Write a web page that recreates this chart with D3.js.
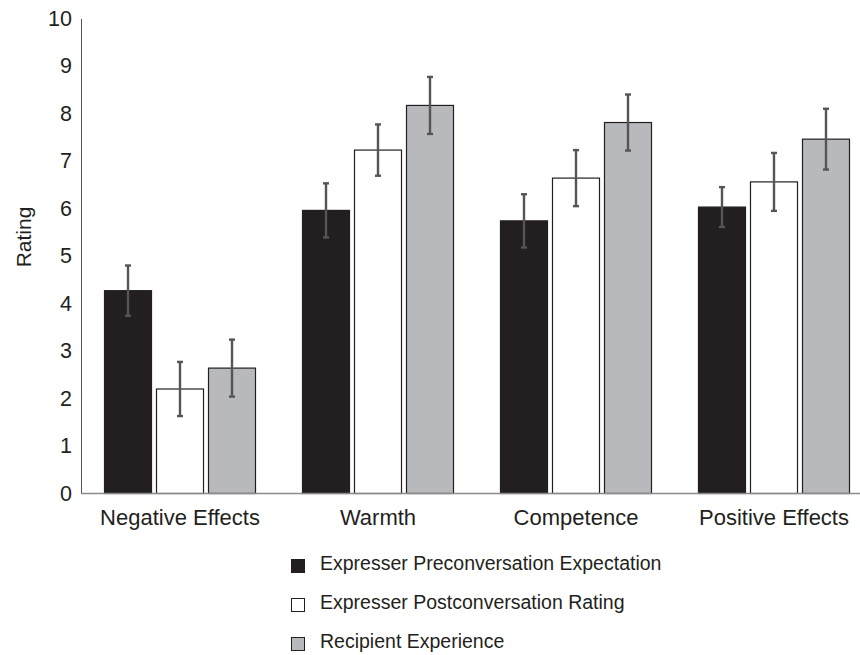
<!DOCTYPE html>
<html>
<head>
<meta charset="utf-8">
<script src="https://cdn.jsdelivr.net/npm/d3@7"></script>
<style>
  html, body { margin: 0; padding: 0; background: #fff; }
  svg text { font-family: "Liberation Sans", Arial, sans-serif; fill: #231f20; }
</style>
</head>
<body>
<svg id="chart" width="860" height="655"></svg>
<script>
// Rating categories and the three measures compared within each
const categories = ["Negative Effects", "Warmth", "Competence", "Positive Effects"];
const seriesNames = [
  "Expresser Preconversation Expectation",
  "Expresser Postconversation Rating",
  "Recipient Experience"
];
const seriesColors = ["#231f20", "#ffffff", "#b8b9bc"];

// Mean ratings per series (one entry per category)
const preExpectation  = [4.27, 5.96, 5.74, 6.03];
const postRating      = [2.20, 7.23, 6.64, 6.56];
const recipientExp    = [2.64, 8.17, 7.81, 7.46];

// Error bar half-widths per series
const preError        = [0.53, 0.57, 0.56, 0.42];
const postError       = [0.57, 0.54, 0.59, 0.61];
const recipientError  = [0.60, 0.60, 0.59, 0.64];

const yTicks = [0, 1, 2, 3, 4, 5, 6, 7, 8, 9, 10];

const means = [preExpectation, postRating, recipientExp];
const errors = [preError, postError, recipientError];

const svg = d3.select("#chart");

const x0 = d3.scaleBand()
  .domain(categories)
  .range([81, 873])
  .paddingInner(0.2323)
  .paddingOuter(0.1162);

const x1 = d3.scaleBand()
  .domain(seriesNames)
  .range([0, x0.bandwidth()])
  .paddingInner(0.0769)
  .paddingOuter(0);

const y = d3.scaleLinear().domain([0, 10]).range([493.5, 18.5]);

// Bars and error bars
const groups = svg.append("g").selectAll("g")
  .data(categories)
  .join("g")
  .attr("transform", d => `translate(${x0(d)},0)`);

const cells = groups.selectAll("g.cell")
  .data((c, ci) => seriesNames.map((s, si) => ({
    series: s, si, value: means[si][ci], err: errors[si][ci]
  })))
  .join("g")
  .attr("class", "cell");

cells.append("rect")
  .attr("x", d => x1(d.series) + 0.5)
  .attr("y", d => y(d.value))
  .attr("width", x1.bandwidth() - 1)
  .attr("height", d => y(0) - y(d.value))
  .attr("fill", d => seriesColors[d.si])
  .attr("stroke", "#231f20")
  .attr("stroke-width", 1.2);

const errG = cells.append("g")
  .attr("stroke", "#555555")
  .attr("stroke-width", 2.4);

errG.append("line")
  .attr("x1", d => x1(d.series) + x1.bandwidth() / 2)
  .attr("x2", d => x1(d.series) + x1.bandwidth() / 2)
  .attr("y1", d => y(d.value + d.err))
  .attr("y2", d => y(d.value - d.err));

errG.append("line")
  .attr("x1", d => x1(d.series) + x1.bandwidth() / 2 - 3)
  .attr("x2", d => x1(d.series) + x1.bandwidth() / 2 + 3)
  .attr("y1", d => y(d.value + d.err))
  .attr("y2", d => y(d.value + d.err));

errG.append("line")
  .attr("x1", d => x1(d.series) + x1.bandwidth() / 2 - 3)
  .attr("x2", d => x1(d.series) + x1.bandwidth() / 2 + 3)
  .attr("y1", d => y(d.value - d.err))
  .attr("y2", d => y(d.value - d.err));

// Y axis
const yAxis = svg.append("g")
  .attr("transform", "translate(81,0)")
  .call(d3.axisLeft(y).tickValues(yTicks).tickSize(0).tickPadding(9).tickFormat(d3.format("d")));
yAxis.select(".domain").attr("stroke", "#555").attr("stroke-width", 1);
yAxis.selectAll("text")
  .attr("font-size", 21.5)
  .attr("font-family", null)
  .attr("fill", "#231f20");

// X axis baseline and category labels
const xAxis = svg.append("g")
  .attr("transform", `translate(0,${y(0)})`)
  .call(d3.axisBottom(x0).tickSize(0).tickPadding(16));
xAxis.select(".domain").remove();
xAxis.append("line")
  .attr("x1", 81).attr("x2", 860)
  .attr("y1", 0).attr("y2", 0)
  .attr("stroke", "#8a8a8a").attr("stroke-width", 1.5);
xAxis.selectAll(".tick text")
  .attr("font-size", 22)
  .attr("font-family", null)
  .attr("fill", "#231f20");

// Y axis title
svg.append("text")
  .attr("transform", "translate(31,237) rotate(-90)")
  .attr("text-anchor", "middle")
  .attr("font-size", 21)
  .text("Rating");

// Legend
const legend = svg.append("g").selectAll("g")
  .data(seriesNames)
  .join("g")
  .attr("transform", (d, i) => `translate(291,${559 + i * 39})`);

legend.append("rect")
  .attr("x", 0.5).attr("y", 0.5)
  .attr("width", 13).attr("height", 13)
  .attr("fill", (d, i) => seriesColors[i])
  .attr("stroke", "#231f20")
  .attr("stroke-width", 1);

legend.append("text")
  .attr("x", 29)
  .attr("y", 4.5)
  .attr("dy", "0.35em")
  .attr("font-size", 19.5)
  .text(d => d);
</script>
</body>
</html>
